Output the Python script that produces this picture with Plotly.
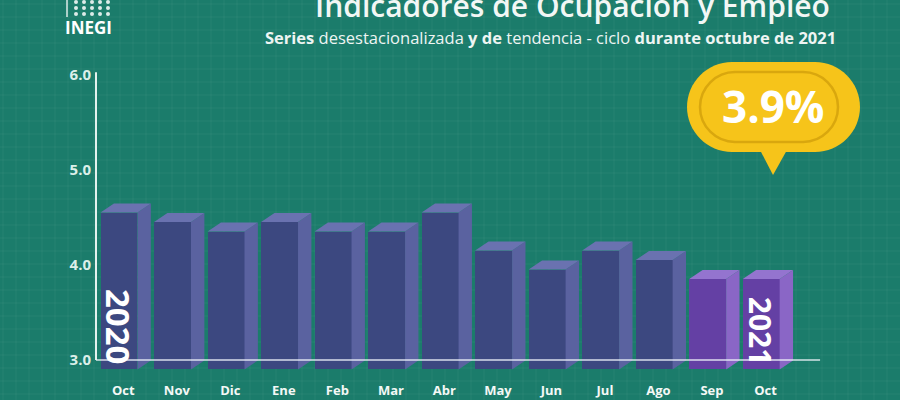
import plotly.graph_objects as go

# ---------------- data ----------------
months = ["Oct", "Nov", "Dic", "Ene", "Feb", "Mar", "Abr", "May", "Jun", "Jul", "Ago", "Sep", "Oct"]
values = [4.6, 4.5, 4.4, 4.5, 4.4, 4.4, 4.6, 4.2, 4.0, 4.2, 4.1, 3.9, 3.9]
highlight = [False] * 11 + [True, True]
year_labels = ["2020", "2021"]
ytick_vals = [3, 4, 5, 6]
ytick_text = ["3.0", "4.0", "5.0", "6.0"]
latest_label = "3.9%"

# ---------------- geometry ----------------
W, H = 900, 400
L, R, T, B = 96, 5, 60, 25
X0, X1 = -0.43, 14.5
Y0, Y1 = 2.842, 6.158
BASE = 2.9
BW = 0.69      # front width (category units)
DX = 0.25      # 3D depth x
DY = 0.095     # 3D depth y (value sits in the middle of the top face)

BG = "#1b7c6b"
FRONT = "#3c4880"
SIDE = "#5a62a0"
TOP = "#6a72b0"
FRONT_H = "#6440a4"
SIDE_H = "#8a66c6"
TOP_H = "#9474cf"


def px(x):
    return (x - L) / (W - L - R)


def py(y):
    return (H - B - y) / (H - T - B)


xs = list(range(len(months)))
fronts = [v - DY / 2 for v in values]
fig = go.Figure()

# front faces
fig.add_trace(go.Bar(
    x=xs, y=[f - BASE for f in fronts], base=BASE, width=BW,
    marker=dict(color=[FRONT_H if h else FRONT for h in highlight], line=dict(width=0)),
    hoverinfo="skip", showlegend=False,
))

# side and top faces
for i, (f, h) in enumerate(zip(fronts, highlight)):
    xr = i + BW / 2
    xl = i - BW / 2
    fig.add_trace(go.Scatter(
        x=[xr, xr + DX, xr + DX, xr, xr], y=[BASE, BASE + DY, f + DY, f, BASE],
        fill="toself", fillcolor=SIDE_H if h else SIDE, mode="lines", line=dict(width=0),
        hoverinfo="skip", showlegend=False))
    fig.add_trace(go.Scatter(
        x=[xl, xl + DX, xr + DX, xr, xl], y=[f, f + DY, f + DY, f, f],
        fill="toself", fillcolor=TOP_H if h else TOP, mode="lines", line=dict(width=0),
        hoverinfo="skip", showlegend=False))

shapes = []
# background grid
g = 13
xg = 3
while xg < W:
    shapes.append(dict(type="line", xref="paper", yref="paper", x0=px(xg), x1=px(xg), y0=py(0), y1=py(H),
                       line=dict(color="rgba(255,255,255,0.05)", width=1), layer="below"))
    xg += g
yg = 4
while yg < H:
    shapes.append(dict(type="line", xref="paper", yref="paper", x0=px(0), x1=px(W), y0=py(yg), y1=py(yg),
                       line=dict(color="rgba(255,255,255,0.05)", width=1), layer="below"))
    yg += g

# axes lines
shapes.append(dict(type="line", xref="paper", yref="y", x0=0, x1=0, y0=3.0, y1=6.03,
                   line=dict(color="#e4f2ee", width=2), layer="above"))
shapes.append(dict(type="line", xref="x", yref="y", x0=X0, x1=13.1, y0=3.0, y1=3.0,
                   line=dict(color="rgba(240,245,250,0.65)", width=2), layer="above"))

# bubble (paper coords via px helpers)
def capsule(x0, x1, y0, y1):
    r = (y1 - y0) / 2
    k = 0.55 * r
    return (f"M {px(x0 + r)},{py(y0)} L {px(x1 - r)},{py(y0)} "
            f"C {px(x1 - r + k)},{py(y0)} {px(x1)},{py(y0 + r - k)} {px(x1)},{py(y0 + r)} "
            f"C {px(x1)},{py(y1 - r + k)} {px(x1 - r + k)},{py(y1)} {px(x1 - r)},{py(y1)} "
            f"L {px(x0 + r)},{py(y1)} "
            f"C {px(x0 + r - k)},{py(y1)} {px(x0)},{py(y1 - r + k)} {px(x0)},{py(y0 + r)} "
            f"C {px(x0)},{py(y0 + r - k)} {px(x0 + r - k)},{py(y0)} {px(x0 + r)},{py(y0)} Z")

shapes.append(dict(type="path", xref="paper", yref="paper",
                   path=f"M {px(760)},{py(150)} L {px(773)},{py(175)} L {px(787)},{py(150)} Z",
                   fillcolor="#f6c41a", line=dict(width=0), layer="above"))
shapes.append(dict(type="path", xref="paper", yref="paper", path=capsule(687, 860, 62, 152),
                   fillcolor="#f6c41a", line=dict(width=0), layer="above"))
shapes.append(dict(type="path", xref="paper", yref="paper", path=capsule(700, 838, 72, 142),
                   fillcolor="#f6c41a", line=dict(color="#d9a70e", width=2.5), layer="above"))

# INEGI logo dots
for cx in [76, 84, 92, 100, 108]:
    for cy in [2, 8, 14]:
        shapes.append(dict(type="circle", xref="paper", yref="paper",
                           x0=px(cx - 2), x1=px(cx + 2), y0=py(cy + 2), y1=py(cy - 2),
                           fillcolor="rgba(255,255,255,0.85)", line=dict(width=0), layer="above"))
shapes.append(dict(type="line", xref="paper", yref="paper", x0=px(67), x1=px(67), y0=py(0), y1=py(17),
                   line=dict(color="rgba(255,255,255,0.85)", width=1.5), layer="above"))

annotations = [
    dict(xref="paper", yref="paper", x=px(832), y=py(6), xanchor="right", yanchor="middle",
         text="Indicadores de Ocupación y Empleo", showarrow=False,
         font=dict(family="Open Sans", size=30, color="#f2f7f5", weight=600)),
    dict(xref="paper", yref="paper", x=px(838), y=py(37), xanchor="right", yanchor="middle",
         text="<b>Series</b> desestacionalizada <b>y de</b> tendencia - ciclo <b>durante octubre de 2021</b>",
         showarrow=False, font=dict(family="Open Sans", size=16.5, color="#eef5f3")),
    dict(xref="paper", yref="paper", x=px(88), y=py(28), xanchor="center", yanchor="middle",
         text="<b>INEGI</b>", showarrow=False, font=dict(family="Open Sans", size=17, color="#ffffff")),
    dict(xref="paper", yref="paper", x=px(773), y=py(106), xanchor="center", yanchor="middle",
         text=f"<b>{latest_label}</b>", showarrow=False, font=dict(family="Open Sans", size=44, color="#ffffff")),
    dict(xref="x", yref="paper", x=0, y=py(326), xanchor="center", yanchor="middle", textangle=90,
         text=f"<b>{year_labels[0]}</b>", showarrow=False, font=dict(family="Open Sans", size=33, color="#ffffff")),
    dict(xref="x", yref="paper", x=12, y=py(331), xanchor="center", yanchor="middle", textangle=90,
         text=f"<b>{year_labels[1]}</b>", showarrow=False, font=dict(family="Open Sans", size=30, color="#ffffff")),
]

fig.update_layout(
    width=W, height=H, margin=dict(l=L, r=R, t=T, b=B, autoexpand=False),
    paper_bgcolor=BG, plot_bgcolor="rgba(0,0,0,0)",
    showlegend=False, bargap=0,
    shapes=shapes, annotations=annotations,
    xaxis=dict(range=[X0, X1], tickvals=[i + 0.08 for i in xs], ticktext=[f"<b>{m}</b>" for m in months],
               showgrid=False, zeroline=False, showline=False, ticks="", automargin=False,
               tickfont=dict(family="Open Sans", size=13, color="#f4f8f6"), ticklabelstandoff=6),
    yaxis=dict(range=[Y0, Y1], tickvals=ytick_vals, ticktext=[f"<b>{t}</b>" for t in ytick_text],
               showgrid=False, zeroline=False, showline=False, ticks="", automargin=False,
               tickfont=dict(family="Open Sans", size=15, color="#dcefe9"), ticklabelstandoff=4),
)

fig.write_html("out.html")
